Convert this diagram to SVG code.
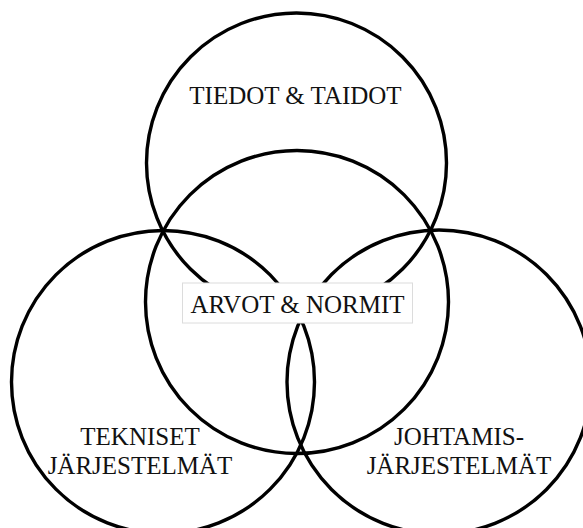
<svg xmlns="http://www.w3.org/2000/svg" width="583" height="528" viewBox="0 0 583 528">
<style>
.c{fill:none;stroke:#000;stroke-width:3.4}
.t{font-family:"Liberation Serif","Times New Roman",serif;font-size:25px;fill:#111;text-anchor:middle}
.box{fill:#fff;stroke:#dcdcdc;stroke-width:1}
</style>
<rect width="583" height="528" fill="#fff"/>
<g id="tiedot">
<circle class="c" cx="296.5" cy="163" r="150"/>
<text class="t" x="295.5" y="104">TIEDOT &amp; TAIDOT</text>
</g>
<g id="tekniset">
<circle class="c" cx="163" cy="382" r="151.5"/>
<text class="t" x="140" y="445">TEKNISET</text>
<text class="t" x="140" y="473.5">JÄRJESTELMÄT</text>
</g>
<g id="johtamis">
<circle class="c" cx="439" cy="382" r="152"/>
<text class="t" x="459" y="445">JOHTAMIS-</text>
<text class="t" x="459" y="473.5">JÄRJESTELMÄT</text>
</g>
<g id="arvot">
<circle class="c" cx="297" cy="302" r="151.5"/>
<rect class="box" x="182.5" y="283" width="230" height="40"/>
<text class="t" x="297.5" y="313.3">ARVOT &amp; NORMIT</text>
</g>
</svg>
